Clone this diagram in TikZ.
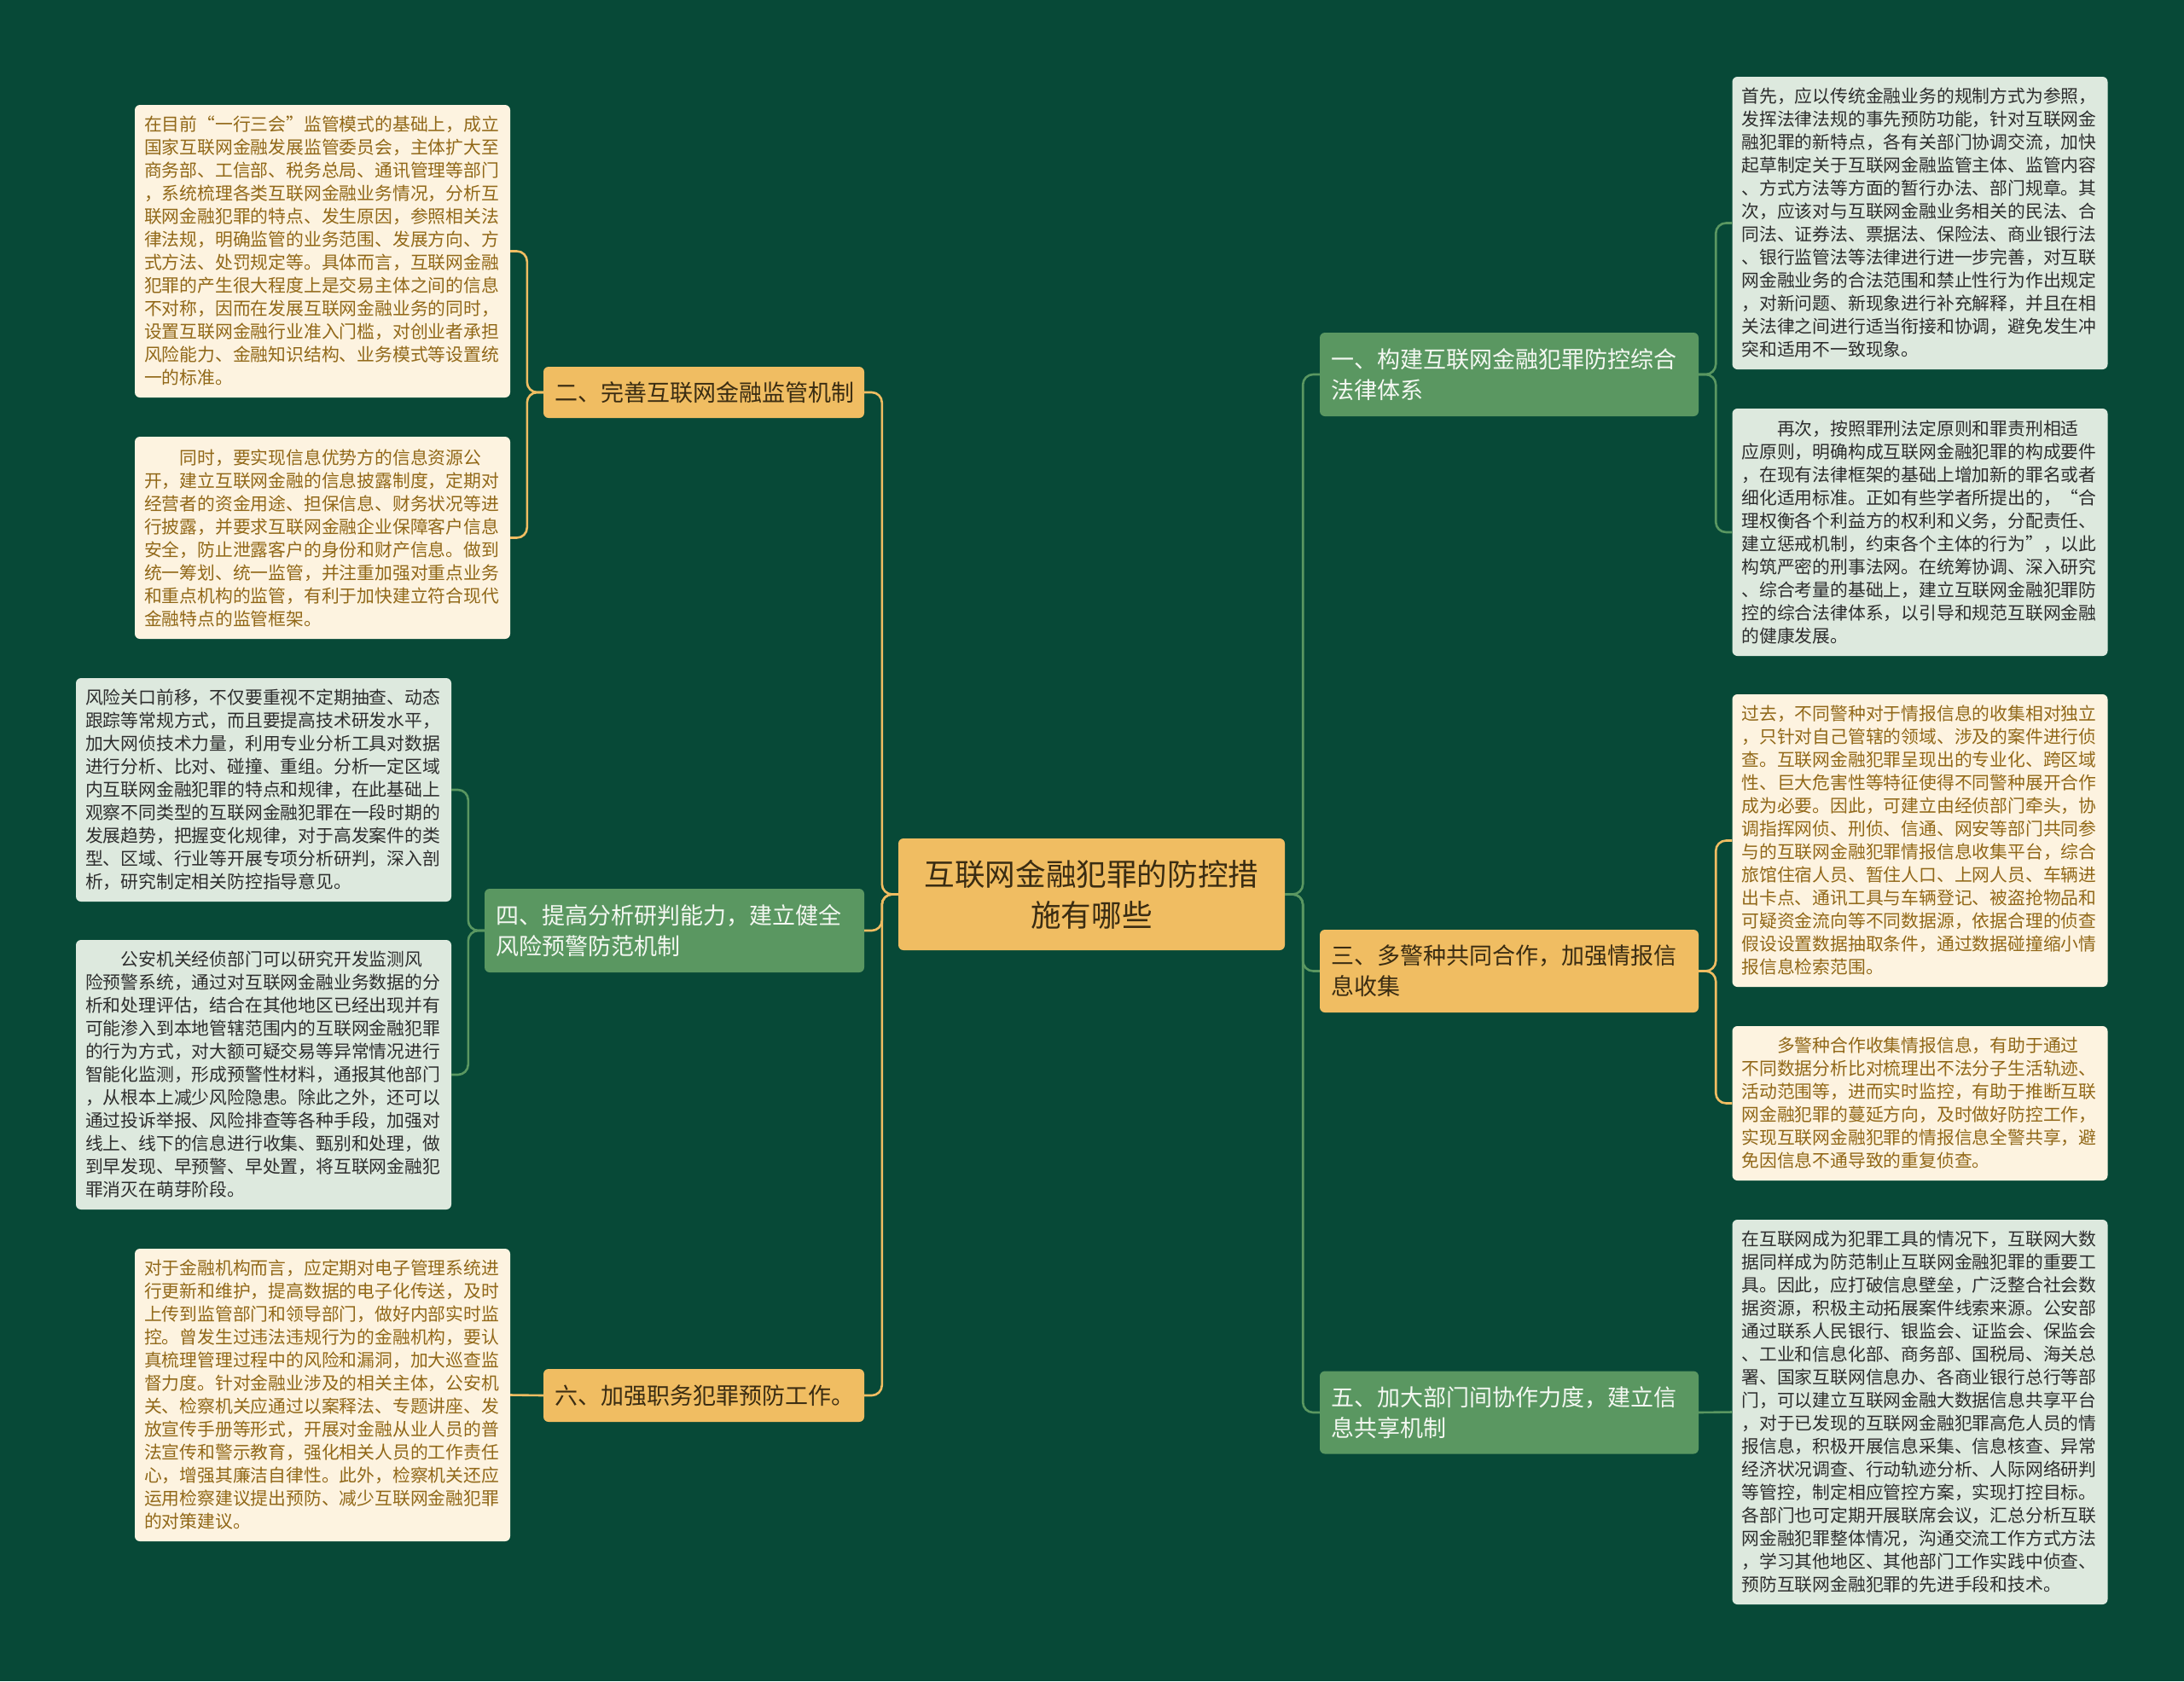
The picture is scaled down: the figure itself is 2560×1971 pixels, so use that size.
\documentclass[tikz,border=0pt]{standalone}
\usepackage{fontspec}
\setmainfont{Noto Sans CJK SC}
\definecolor{bgc}{RGB}{7,73,55}
\definecolor{orangec}{RGB}{240,189,98}
\definecolor{greenc}{RGB}{90,151,97}
\definecolor{creamc}{RGB}{253,243,224}
\definecolor{leafgc}{RGB}{221,233,222}
\definecolor{goldtxt}{RGB}{145,104,24}
\definecolor{darktxt}{RGB}{45,45,45}
\definecolor{browntxt}{RGB}{58,44,18}
\definecolor{whitetxt}{RGB}{244,248,242}
\newcommand\myleaffont{\fontsize{20.8pt}{27pt}\selectfont}
\newcommand\mybranchfont{\fontsize{27pt}{36pt}\selectfont}
\newcommand\mycenterfont{\fontsize{35.6pt}{48pt}\selectfont}
\tikzset{
  leafbase/.style={rounded corners=6pt, inner xsep=11pt, inner ysep=0pt, align=left, font=\myleaffont, text width=418pt, minimum width=440pt},
  leafcream/.style={leafbase, fill=creamc, text=goldtxt},
  leafgreen/.style={leafbase, fill=leafgc, text=darktxt},
  branchbase/.style={rounded corners=6pt, inner xsep=13pt, inner ysep=0pt, align=left, font=\mybranchfont},
  brancho/.style={branchbase, fill=orangec, text=browntxt},
  branchg/.style={branchbase, fill=greenc, text=whitetxt},
  centerbox/.style={rounded corners=6pt, fill=orangec, text=browntxt, align=center, font=\mycenterfont, minimum width=453pt, minimum height=131pt, inner sep=0pt},
  conngold/.style={draw=orangec, line width=2.6pt, rounded corners=12pt},
  conngreen/.style={draw=greenc, line width=2.6pt, rounded corners=12pt}
}
\begin{document}
\begin{tikzpicture}[x=1pt,y=-1pt]
\fill[bgc] (0,0) rectangle (2560,1971);
\useasboundingbox (0,0) rectangle (2560,1971);

% center
\node[centerbox] (c) at (1279.5,1048.5) {互联网金融犯罪的防控措\\施有哪些};

% branches
\node[branchg, text width=418pt, minimum width=444pt, minimum height=98pt] (b1) at (1769,439) {一、构建互联网金融犯罪防控综合\\法律体系};
\node[brancho, text width=418pt, minimum width=444pt, minimum height=97pt] (b3) at (1769,1138.5) {三、多警种共同合作，加强情报信\\息收集};
\node[branchg, text width=418pt, minimum width=444pt, minimum height=97pt] (b5) at (1769,1656) {五、加大部门间协作力度，建立信\\息共享机制};
\node[brancho, text width=350pt, minimum width=376pt, minimum height=60pt] (b2) at (825,460) {二、完善互联网金融监管机制};
\node[branchg, text width=419pt, minimum width=445pt, minimum height=98pt] (b4) at (790.5,1091) {四、提高分析研判能力，建立健全\\风险预警防范机制};
\node[brancho, text width=350pt, minimum width=376pt, minimum height=62pt] (b6) at (825,1636) {六、加强职务犯罪预防工作。};

% left leaves
\node[leafcream, minimum height=343pt] (l2a) at (378,294.5) {在目前“一行三会”监管模式的基础上，成立\\国家互联网金融发展监管委员会，主体扩大至\\商务部、工信部、税务总局、通讯管理等部门\\，系统梳理各类互联网金融业务情况，分析互\\联网金融犯罪的特点、发生原因，参照相关法\\律法规，明确监管的业务范围、发展方向、方\\式方法、处罚规定等。具体而言，互联网金融\\犯罪的产生很大程度上是交易主体之间的信息\\不对称，因而在发展互联网金融业务的同时，\\设置互联网金融行业准入门槛，对创业者承担\\风险能力、金融知识结构、业务模式等设置统\\一的标准。};
\node[leafcream, minimum height=237pt] (l2b) at (378,630.5) {\hspace*{2em}同时，要实现信息优势方的信息资源公\\开，建立互联网金融的信息披露制度，定期对\\经营者的资金用途、担保信息、财务状况等进\\行披露，并要求互联网金融企业保障客户信息\\安全，防止泄露客户的身份和财产信息。做到\\统一筹划、统一监管，并注重加强对重点业务\\和重点机构的监管，有利于加快建立符合现代\\金融特点的监管框架。};
\node[leafgreen, minimum height=262pt] (l4a) at (309,926) {风险关口前移，不仅要重视不定期抽查、动态\\跟踪等常规方式，而且要提高技术研发水平，\\加大网侦技术力量，利用专业分析工具对数据\\进行分析、比对、碰撞、重组。分析一定区域\\内互联网金融犯罪的特点和规律，在此基础上\\观察不同类型的互联网金融犯罪在一段时期的\\发展趋势，把握变化规律，对于高发案件的类\\型、区域、行业等开展专项分析研判，深入剖\\析，研究制定相关防控指导意见。};
\node[leafgreen, minimum height=316pt] (l4b) at (309,1260) {\hspace*{2em}公安机关经侦部门可以研究开发监测风\\险预警系统，通过对互联网金融业务数据的分\\析和处理评估，结合在其他地区已经出现并有\\可能渗入到本地管辖范围内的互联网金融犯罪\\的行为方式，对大额可疑交易等异常情况进行\\智能化监测，形成预警性材料，通报其他部门\\，从根本上减少风险隐患。除此之外，还可以\\通过投诉举报、风险排查等各种手段，加强对\\线上、线下的信息进行收集、甄别和处理，做\\到早发现、早预警、早处置，将互联网金融犯\\罪消灭在萌芽阶段。};
\node[leafcream, minimum height=343pt] (l6) at (378,1635.5) {对于金融机构而言，应定期对电子管理系统进\\行更新和维护，提高数据的电子化传送，及时\\上传到监管部门和领导部门，做好内部实时监\\控。曾发生过违法违规行为的金融机构，要认\\真梳理管理过程中的风险和漏洞，加大巡查监\\督力度。针对金融业涉及的相关主体，公安机\\关、检察机关应通过以案释法、专题讲座、发\\放宣传手册等形式，开展对金融从业人员的普\\法宣传和警示教育，强化相关人员的工作责任\\心，增强其廉洁自律性。此外，检察机关还应\\运用检察建议提出预防、减少互联网金融犯罪\\的对策建议。};

% right leaves
\node[leafgreen, minimum height=343pt] (r1a) at (2250.5,261.5) {首先，应以传统金融业务的规制方式为参照，\\发挥法律法规的事先预防功能，针对互联网金\\融犯罪的新特点，各有关部门协调交流，加快\\起草制定关于互联网金融监管主体、监管内容\\、方式方法等方面的暂行办法、部门规章。其\\次，应该对与互联网金融业务相关的民法、合\\同法、证券法、票据法、保险法、商业银行法\\、银行监管法等法律进行进一步完善，对互联\\网金融业务的合法范围和禁止性行为作出规定\\，对新问题、新现象进行补充解释，并且在相\\关法律之间进行适当衔接和协调，避免发生冲\\突和适用不一致现象。};
\node[leafgreen, minimum height=290pt] (r1b) at (2250.5,624) {\hspace*{2em}再次，按照罪刑法定原则和罪责刑相适\\应原则，明确构成互联网金融犯罪的构成要件\\，在现有法律框架的基础上增加新的罪名或者\\细化适用标准。正如有些学者所提出的，“合\\理权衡各个利益方的权利和义务，分配责任、\\建立惩戒机制，约束各个主体的行为”，以此\\构筑严密的刑事法网。在统筹协调、深入研究\\、综合考量的基础上，建立互联网金融犯罪防\\控的综合法律体系，以引导和规范互联网金融\\的健康发展。};
\node[leafcream, minimum height=343pt] (r3a) at (2250.5,985.5) {过去，不同警种对于情报信息的收集相对独立\\，只针对自己管辖的领域、涉及的案件进行侦\\查。互联网金融犯罪呈现出的专业化、跨区域\\性、巨大危害性等特征使得不同警种展开合作\\成为必要。因此，可建立由经侦部门牵头，协\\调指挥网侦、刑侦、信通、网安等部门共同参\\与的互联网金融犯罪情报信息收集平台，综合\\旅馆住宿人员、暂住人口、上网人员、车辆进\\出卡点、通讯工具与车辆登记、被盗抢物品和\\可疑资金流向等不同数据源，依据合理的侦查\\假设设置数据抽取条件，通过数据碰撞缩小情\\报信息检索范围。};
\node[leafcream, minimum height=181pt] (r3b) at (2250.5,1293.5) {\hspace*{2em}多警种合作收集情报信息，有助于通过\\不同数据分析比对梳理出不法分子生活轨迹、\\活动范围等，进而实时监控，有助于推断互联\\网金融犯罪的蔓延方向，及时做好防控工作，\\实现互联网金融犯罪的情报信息全警共享，避\\免因信息不通导致的重复侦查。};
\node[leafgreen, minimum height=451pt] (r5) at (2250.5,1655.5) {在互联网成为犯罪工具的情况下，互联网大数\\据同样成为防范制止互联网金融犯罪的重要工\\具。因此，应打破信息壁垒，广泛整合社会数\\据资源，积极主动拓展案件线索来源。公安部\\通过联系人民银行、银监会、证监会、保监会\\、工业和信息化部、商务部、国税局、海关总\\署、国家互联网信息办、各商业银行总行等部\\门，可以建立互联网金融大数据信息共享平台\\，对于已发现的互联网金融犯罪高危人员的情\\报信息，积极开展信息采集、信息核查、异常\\经济状况调查、行动轨迹分析、人际网络研判\\等管控，制定相应管控方案，实现打控目标。\\各部门也可定期开展联席会议，汇总分析互联\\网金融犯罪整体情况，沟通交流工作方式方法\\，学习其他地区、其他部门工作实践中侦查、\\预防互联网金融犯罪的先进手段和技术。};

% connectors: center to branches
\begin{scope}[on background layer/.style={}]
\end{scope}
\draw[conngold] (c.west) -- ++(-19,0) |- (b2.east);
\draw[conngold] (c.west) -- ++(-19,0) |- (b4.east);
\draw[conngold] (c.west) -- ++(-19,0) |- (b6.east);
\draw[conngreen] (c.east) -- ++(21,0) |- (b1.west);
\draw[conngreen] (c.east) -- ++(21,0) |- (b3.west);
\draw[conngreen] (c.east) -- ++(21,0) |- (b5.west);

% branches to leaves
\draw[conngold] (b2.west) -- ++(-19,0) |- (l2a.east);
\draw[conngold] (b2.west) -- ++(-19,0) |- (l2b.east);
\draw[conngreen] (b4.west) -- ++(-19,0) |- (l4a.east);
\draw[conngreen] (b4.west) -- ++(-19,0) |- (l4b.east);
\draw[conngold] (b6.west) -- (l6.east);
\draw[conngreen] (b1.east) -- ++(20,0) |- (r1a.west);
\draw[conngreen] (b1.east) -- ++(20,0) |- (r1b.west);
\draw[conngold] (b3.east) -- ++(20,0) |- (r3a.west);
\draw[conngold] (b3.east) -- ++(20,0) |- (r3b.west);
\draw[conngreen] (b5.east) -- (r5.west);
\end{tikzpicture}
\end{document}
